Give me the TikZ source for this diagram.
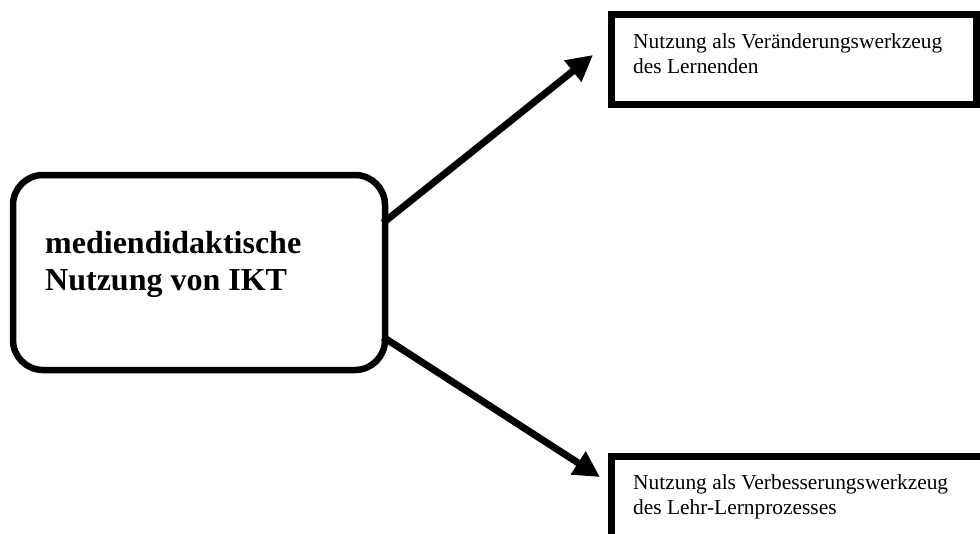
\documentclass[tikz,border=0pt]{standalone}
\usepackage{fontspec}
\setmainfont{Liberation Serif}
\usetikzlibrary{arrows.meta}
\begin{document}
\begin{tikzpicture}[x=1pt,y=-1pt,
  mainbox/.style={draw, line width=6.5pt, rounded corners=30pt, inner sep=0pt, outer sep=0pt},
  sidebox/.style={draw, line width=7pt, inner sep=0pt, outer sep=0pt},
  maintext/.style={inner sep=0pt, align=left, font=\bfseries\fontsize{32}{37}\selectfont},
  sidetext/.style={inner sep=0pt, align=left, font=\fontsize{21.4}{25}\selectfont},
  arr/.style={line width=7pt, -{Triangle[length=26pt, width=26pt]}}]
\useasboundingbox (0,0) rectangle (980,533);
\clip (0,0) rectangle (980,533);

% central rounded box
\node[mainbox, minimum width=372pt, minimum height=195pt] (main) at (199,272.5) {};
\node[maintext, anchor=base west] (maintxt) at (45,290)
  {mediendidaktische\\Nutzung von IKT};

% upper target box
\node[sidebox, minimum width=365pt, minimum height=90pt, anchor=north west] (top) at (611.5,14.5) {};
\node[sidetext, anchor=base west] (toptxt) at (633,73)
  {Nutzung als Veränderungswerkzeug\\des Lernenden};

% lower target box (runs past the lower and right edges)
\node[sidebox, minimum width=380pt, minimum height=100pt, anchor=north west] (bot) at (611.5,456.5) {};
\node[sidetext, anchor=base west] (bottxt) at (633,514)
  {Nutzung als Verbesserungswerkzeug\\des Lehr-Lernprozesses};

% connectors
\coordinate (s1) at (383,223);
\coordinate (e1) at (593,55);
\coordinate (s2) at (383,337);
\coordinate (e2) at (600,477);
\draw[arr] (s1) -- (e1);
\draw[arr] (s2) -- (e2);
\end{tikzpicture}
\end{document}
